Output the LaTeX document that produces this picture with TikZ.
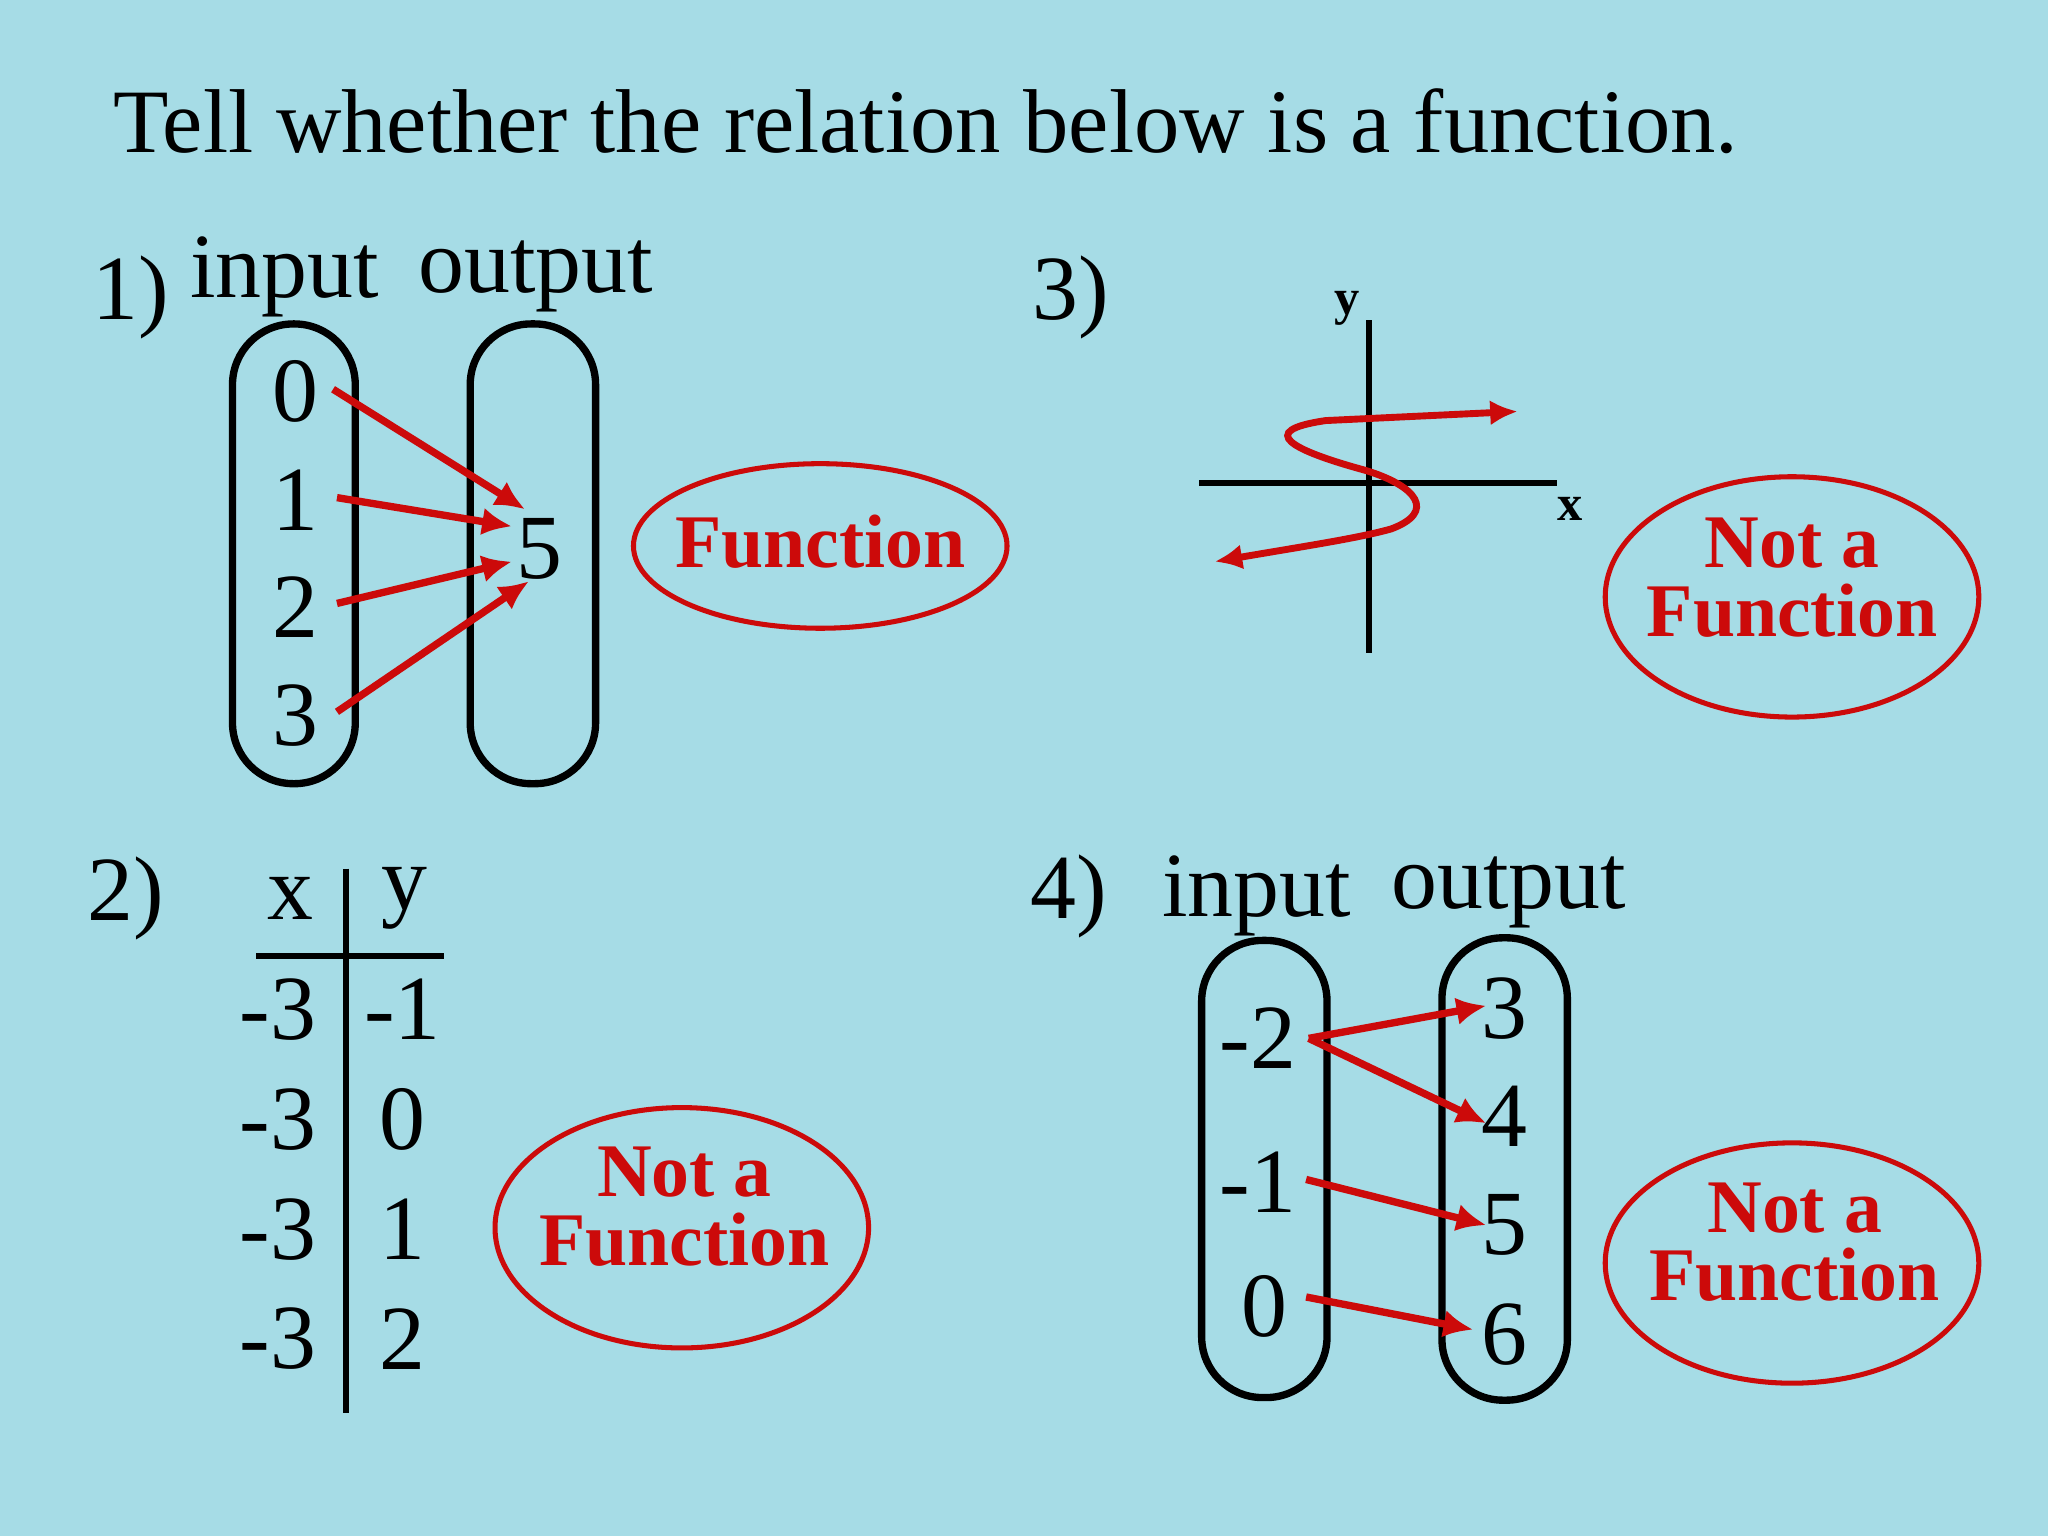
\documentclass[tikz,border=0pt]{standalone}
\usepackage{fontspec}
\setmainfont{Liberation Serif}
\usetikzlibrary{arrows.meta}
\definecolor{bg}{HTML}{A6DCE6}
\definecolor{rd}{HTML}{CC0A0A}
\tikzset{
 t/.style={font=\fontsize{40}{44}\selectfont, inner sep=0pt},
 lab/.style={font=\fontsize{33}{36}\selectfont\bfseries, text=rd, align=center, inner sep=0pt},
 oval/.style={draw=black, line width=3.2pt, rounded corners=26.5pt},
 ring/.style={draw=rd, line width=2.2pt},
 arr/.style={draw=rd, line width=3.2pt, -{Latex[length=13pt,width=12pt]}},
 ax/.style={draw=black, line width=2.8pt}
}
\begin{document}
\begin{tikzpicture}[x=0.02cm,y=-0.02cm]
\fill[bg] (0,0) rectangle (1568,1176);
\node[t,font=\fontsize{39.5}{44}\selectfont] (title) at (709,93) {Tell whether the relation below is a function.};
% 1
\node[t] (n1) at (100,228) {1)};
\node[t] (in1) at (218,212) {input};
\node[t] (out1) at (410,212) {output};
\draw[oval] (178,248) rectangle (272,600);
\draw[oval] (360,248) rectangle (456,600);
\node[t] (a0) at (226,300) {0};
\node[t] (a1) at (226,383) {1};
\node[t] (a2) at (226,465) {2};
\node[t] (a3) at (226,548) {3};
\node[t] (b5) at (413,420) {5};
\draw[arr] (255,298) -- (402,390);
\draw[arr] (258,381) -- (392,403);
\draw[arr] (258,462) -- (392,430);
\draw[arr] (258,545) -- (405,445);
\draw[ring] (628,418) ellipse [x radius=143, y radius=63];
\node[lab] (f1) at (628,415) {Function};
% 3
\node[t] (n3) at (820,228) {3)};
\draw[ax] (1048,245) -- (1048,500);
\draw[ax] (918,370) -- (1192,370);
\node[font=\fontsize{22}{24}\selectfont\bfseries, inner sep=0pt] (yl) at (1031,236) {y};
\node[font=\fontsize{22}{24}\selectfont\bfseries, inner sep=0pt] (xl) at (1202,390) {x};
\draw[draw=rd, line width=3pt, {Latex[length=12pt,width=11pt]}-{Latex[length=12pt,width=11pt]}]
 (930,430) .. controls (1000,418) and (1040,412) .. (1065,405)
 .. controls (1100,392) and (1085,372) .. (1045,360)
 .. controls (990,345) and (960,330) .. (1015,322)
 -- (1162,315);
\draw[ring] (1372,457) ellipse [x radius=143, y radius=92];
\node[lab] (f3) at (1372,442) {Not a\\[-6pt]Function};
% 2
\node[t] (n2) at (96,688) {2)};
\node[t] (hx) at (222,688) {x};
\node[t] (hy) at (310,688) {y};
\draw[ax] (196,732) -- (340,732);
\draw[ax] (265,665) -- (265,1082);
\foreach \yy/\v [count=\i] in {773/-1,857/0,941/1,1025/2}{
 \node[t] (l\i) at (213,\yy) {-3};
 \node[t] (r\i) at (308,\yy) {\v};
}
\draw[ring] (522,940) ellipse [x radius=143, y radius=92];
\node[lab] (f2) at (524,924) {Not a\\[-6pt]Function};
% 4
\node[t] (n4) at (818,686) {4)};
\node[t] (in4) at (962,686) {input};
\node[t] (out4) at (1155,683) {output};
\draw[oval] (920,720) rectangle (1016,1070);
\draw[oval] (1104,718) rectangle (1200,1072);
\node[t] (c2) at (963,795) {-2};
\node[t] (c1) at (963,905) {-1};
\node[t] (c0) at (968,1000) {0};
\node[t] (d3) at (1152,772) {3};
\node[t] (d4) at (1152,855) {4};
\node[t] (d5) at (1152,938) {5};
\node[t] (d6) at (1152,1022) {6};
\draw[arr] (1002,795) -- (1138,770);
\draw[arr] (1002,795) -- (1138,860);
\draw[arr] (1000,903) -- (1138,938);
\draw[arr] (1000,993) -- (1128,1018);
\draw[ring] (1372,967) ellipse [x radius=143, y radius=92];
\node[lab] (f4) at (1374,951) {Not a\\[-6pt]Function};
\end{tikzpicture}
\end{document}
